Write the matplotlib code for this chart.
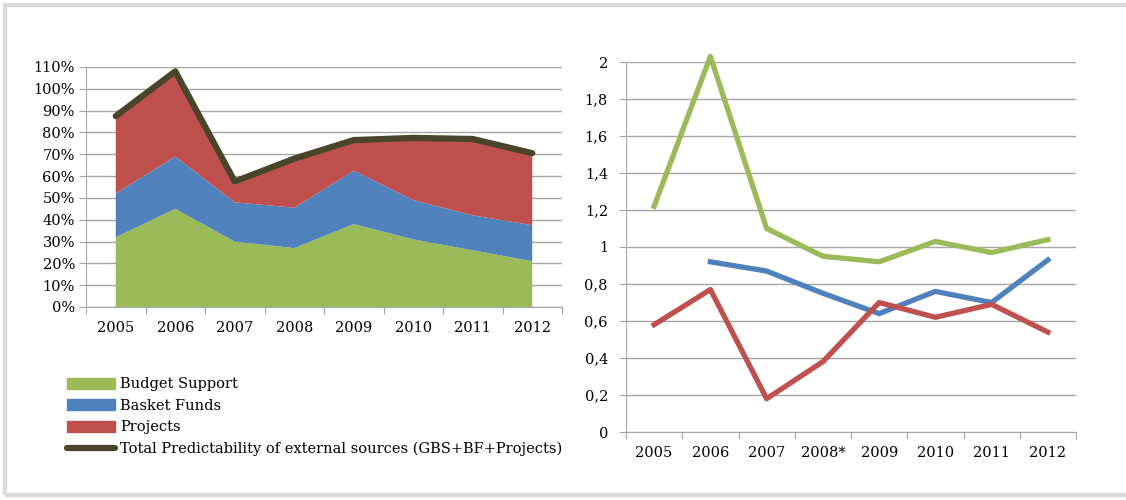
import matplotlib.pyplot as plt
from matplotlib.patches import Patch, Rectangle
from matplotlib.lines import Line2D
from matplotlib.ticker import FuncFormatter

# Data
years = ['2005', '2006', '2007', '2008', '2009', '2010', '2011', '2012']
years_right = ['2005', '2006', '2007', '2008*', '2009', '2010', '2011', '2012']

budget_support = [32, 45, 30, 27, 38, 31, 26, 21]
basket_funds = [20, 24, 18, 18.5, 24.5, 18, 16, 16.5]
projects = [35, 38, 8, 21.5, 13, 27.5, 34, 32.5]
total = [87.5, 108, 57.5, 68, 76.5, 77.5, 77, 70.5]

gbs_ratio = [1.22, 2.03, 1.10, 0.95, 0.92, 1.03, 0.97, 1.04]
bf_ratio = [None, 0.92, 0.87, 0.75, 0.64, 0.76, 0.70, 0.93]
proj_ratio = [0.58, 0.77, 0.18, 0.38, 0.70, 0.62, 0.69, 0.54]

green = '#9bbb59'
blue = '#4f81bd'
red = '#c0504d'
dark = '#4a4528'
grid_col = '#a6a6a6'

plt.rcParams['font.family'] = ['DejaVu Serif']
plt.rcParams['font.size'] = 10.5

fig = plt.figure(figsize=(11.26, 5), dpi=100)

# outer frame
fig.patches.append(Rectangle((5 / 1126, 5 / 500), 1.2, 490 / 500,
                             transform=fig.transFigure, fill=False,
                             edgecolor='#dadada', linewidth=3))


def style_axes(ax, n):
    ax.set_xlim(-0.5, n - 0.5)
    ax.set_xticks([i - 0.5 for i in range(n + 1)])
    ax.set_xticklabels([])
    ax.tick_params(axis='x', which='major', length=5, color=grid_col, direction='out')
    ax.tick_params(axis='y', length=5, color=grid_col, direction='out', pad=3)
    ax.tick_params(axis='x', which='minor', length=0, pad=10)
    for s in ['top', 'right']:
        ax.spines[s].set_visible(False)
    for s in ['left', 'bottom']:
        ax.spines[s].set_color(grid_col)
    ax.grid(axis='y', color=grid_col, linewidth=1)
    ax.set_axisbelow(True)


# Left: stacked area
ax1 = fig.add_axes([86 / 1126, 193 / 500, 476 / 1126, 240 / 500])
x = list(range(len(years)))
ax1.stackplot(x, budget_support, basket_funds, projects,
              colors=[green, blue, red], linewidth=0)
ax1.plot(x, total, color=dark, linewidth=4.5, solid_capstyle='round', clip_on=False)
ax1.set_ylim(0, 110)
ax1.set_yticks(range(0, 111, 10))
ax1.set_yticklabels([f'{v}%' for v in range(0, 111, 10)])
style_axes(ax1, len(years))
ax1.set_xticks(x, minor=True)
ax1.set_xticklabels(years, minor=True)

handles = [Patch(color=green), Patch(color=blue), Patch(color=red),
           Line2D([], [], color=dark, linewidth=4.5, solid_capstyle='round')]
labels = ['Budget Support', 'Basket Funds', 'Projects',
          'Total Predictability of external sources (GBS+BF+Projects)']
fig.legend(handles, labels, loc='upper left', bbox_to_anchor=(60 / 1126, 1 - 370 / 500),
           frameon=False, fontsize=10.5, handlelength=3.3, handleheight=0.75,
           handletextpad=0.3, labelspacing=0.52, borderpad=0)

# Right: lines
ax2 = fig.add_axes([626 / 1126, 68 / 500, 450 / 1126, 370 / 500])
ax2.plot(x, gbs_ratio, color=green, linewidth=3.8, clip_on=False)
ax2.plot(x, [float('nan') if v is None else v for v in bf_ratio], color=blue,
         linewidth=3.8, clip_on=False)
ax2.plot(x, proj_ratio, color=red, linewidth=3.8, clip_on=False)
ax2.set_ylim(0, 2)
ax2.set_yticks([i / 5 for i in range(11)])
ax2.yaxis.set_major_formatter(FuncFormatter(lambda v, p: f'{v:g}'.replace('.', ',')))
style_axes(ax2, len(years_right))
ax2.tick_params(axis='y', pad=8)
ax2.set_xticks(x, minor=True)
ax2.set_xticklabels(years_right, minor=True)

plt.savefig('out.png', dpi=100)
